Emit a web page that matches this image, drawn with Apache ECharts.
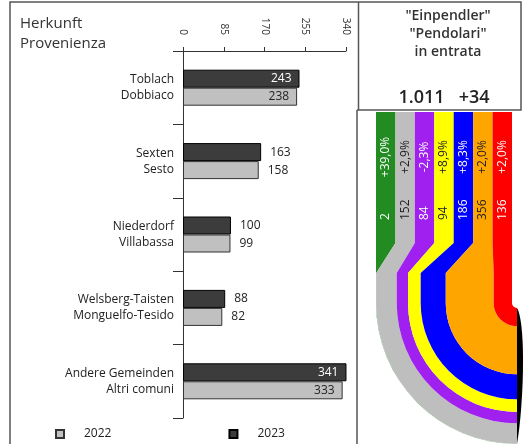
<!DOCTYPE html>
<html><head><meta charset="utf-8">
<script src="https://cdn.jsdelivr.net/npm/echarts@6/dist/echarts.min.js"></script>
<style>html,body{margin:0;padding:0;background:#fff}#c{width:524px;height:444px}</style>
</head><body><div id="c"></div>
<script>
// ---- bar chart data ----
const namesDE = ['Toblach', 'Sexten', 'Niederdorf', 'Welsberg-Taisten', 'Andere Gemeinden'];
const namesIT = ['Dobbiaco', 'Sesto', 'Villabassa', 'Monguelfo-Tesido', 'Altri comuni'];
const values2022 = [238, 158, 99, 82, 333];
const values2023 = [243, 163, 100, 88, 341];
const tickValues = [0, 85, 170, 255, 340];
const seriesNames = ['2022', '2023'];
// ---- commuter flow data ----
const flowCounts = [2, 152, 84, 94, 186, 356, 136];
const flowChanges = ['+39,0%', '+2,9%', '-2,3%', '+8,9%', '+8,3%', '+2,0%', '+2,0%'];
const totalIn = '1.011';
const totalChange = '+34';

// ---- styles ----
const FONT = '"Open Sans", "DejaVu Sans", sans-serif';
const flowColors = ['#228b22', '#bebebe', '#a020f0', '#ffff00', '#0000ff', '#ffa500', '#ff0000'];
const flowLabelColors = ['#ffffff', '#222222', '#ffffff', '#222222', '#ffffff', '#222222', '#ffffff'];

const categories = namesDE.map((d, i) => d + '\n' + namesIT[i]);
const flowTotal = flowCounts.reduce((a, b) => a + b, 0);
let acc = 0;
const flowData = flowCounts.map((v, i) => { const s = acc; acc += v; return [i, s, v]; });

function barLabel(v, insideColor) {
  return v > 200
    ? { show: true, position: 'insideRight', distance: 8, color: insideColor, fontSize: 12, fontFamily: FONT }
    : { show: true, position: 'right', distance: 9, color: '#222', fontSize: 12, fontFamily: FONT };
}

function renderFlow(params, api) {
  const i = api.value(0), start = api.value(1), val = api.value(2);
  const cs = params.coordSys;
  const n = flowCounts.length;
  const X = v => api.coord([v, 0])[0];
  const colL = X(i * flowTotal / n), colR = X((i + 1) * flowTotal / n);
  const pL = X(start), pR = X(start + val);
  const yTop = cs.y, yA = cs.y + 131, yB = cs.y + 161, Cy = cs.y + 191;
  const Cx = X(flowTotal) + 5;
  const rOut = Cx - pL, rIn = Cx - pR;
  const d = 'M' + colL + ' ' + yTop + ' L' + colR + ' ' + yTop + ' L' + colR + ' ' + yA +
    ' L' + pR + ' ' + yB + ' L' + pR + ' ' + Cy +
    ' A' + rIn + ' ' + rIn + ' 0 0 0 ' + Cx + ' ' + (Cy + rIn) +
    ' L' + Cx + ' ' + (Cy + rOut) +
    ' A' + rOut + ' ' + rOut + ' 0 0 1 ' + pL + ' ' + Cy +
    ' L' + pL + ' ' + yB + ' L' + colL + ' ' + yA + ' Z';
  const mid = (colL + colR) / 2;
  const children = [
    { type: 'path', shape: { pathData: d }, style: { fill: flowColors[i], stroke: null } },
    { type: 'text', x: mid, y: cs.y + 45, rotation: Math.PI / 2,
      style: { text: flowChanges[i], fill: flowLabelColors[i], fontSize: 12, fontFamily: FONT, align: 'center', verticalAlign: 'middle' } },
    { type: 'text', x: mid, y: cs.y + 108, rotation: Math.PI / 2,
      style: { text: String(flowCounts[i]), fill: flowLabelColors[i], fontSize: 12, fontFamily: FONT, align: 'left', verticalAlign: 'middle' } }
  ];
  if (i === n - 1) {
    const y0 = Cy + (Cx - X(flowTotal)), y1 = Cy + (Cx - X(0));
    children.push({ type: 'path', shape: { pathData:
      'M' + Cx + ' ' + y0 + ' C' + (Cx + 9) + ' ' + (Cy + 20) + ' ' + (Cx + 7) + ' ' + (Cy + 100) + ' ' + Cx + ' ' + y1 + ' Z' },
      style: { fill: '#000' } });
  }
  return { type: 'group', children: children };
}

const chart = echarts.init(document.getElementById('c'), null, { renderer: 'canvas' });
const LINE = '#555';
chart.setOption({
  animation: false,
  textStyle: { fontFamily: FONT },
  title: [
    { text: 'Herkunft\nProvenienza', left: 20, top: 14, padding: 0,
      textStyle: { fontSize: 15, fontWeight: 'normal', color: '#333', lineHeight: 20, fontFamily: FONT } },
    { text: '"Einpendler"\n"Pendolari"\nin entrata', left: 448, top: 7, padding: 0, textAlign: 'center',
      textStyle: { fontSize: 14, fontWeight: 600, color: '#333', lineHeight: 18, fontFamily: FONT, align: 'center' } },
    { text: totalIn + '   ' + totalChange, left: 444, top: 89, padding: 0, textAlign: 'center',
      textStyle: { fontSize: 18, fontWeight: 600, color: '#222', fontFamily: FONT } }
  ],
  legend: {
    data: seriesNames, left: 55, top: 428, padding: 0, itemWidth: 8, itemHeight: 8, itemGap: 117,
    icon: 'rect', textStyle: { fontSize: 12, color: '#222', fontFamily: FONT, padding: [0, 0, 0, 15] }
  },
  grid: [
    { left: 183, top: 51, width: 163, height: 367 },
    { left: 376, top: 112, width: 136, height: 332 }
  ],
  xAxis: [
    { type: 'value', gridIndex: 0, position: 'top', min: tickValues[0], max: tickValues[tickValues.length - 1],
      interval: tickValues[1] - tickValues[0],
      axisLine: { show: true, lineStyle: { color: '#333', width: 1 } },
      axisTick: { show: true, length: 4, lineStyle: { color: '#333' } },
      axisLabel: { rotate: 90, margin: 16, fontSize: 10, color: '#333', fontFamily: FONT },
      splitLine: { show: false } },
    { type: 'value', gridIndex: 1, min: 0, max: flowTotal, show: false }
  ],
  yAxis: [
    { type: 'category', gridIndex: 0, inverse: true, data: categories,
      axisLine: { show: true, lineStyle: { color: '#333', width: 1 } },
      axisTick: { show: true, length: 10, lineStyle: { color: '#333' } },
      axisLabel: { margin: 9, fontSize: 12, color: '#222', lineHeight: 16, align: 'right', fontFamily: FONT } },
    { type: 'value', gridIndex: 1, min: 0, max: 1, show: false }
  ],
  series: [
    { name: '2023', type: 'bar', xAxisIndex: 0, yAxisIndex: 0, barWidth: 18, barGap: '0%',
      itemStyle: { color: '#3c3c3c', borderColor: '#000', borderWidth: 1 },
      data: values2023.map(v => ({ value: v, label: barLabel(v, '#fff') })) },
    { name: '2022', type: 'bar', xAxisIndex: 0, yAxisIndex: 0, barWidth: 18, barGap: '0%',
      itemStyle: { color: '#c0c0c0', borderColor: '#333', borderWidth: 1 },
      data: values2022.map(v => ({ value: v, label: barLabel(v, '#222') })) },
    { type: 'custom', xAxisIndex: 1, yAxisIndex: 1, clip: false, renderItem: renderFlow,
      data: flowData, silent: true }
  ],
  graphic: [
    { type: 'polyline', shape: { points: [[10, 444], [10, 2], [521, 2], [521, 110], [357, 110]] },
      style: { stroke: LINE, lineWidth: 1.5, fill: null } },
    { type: 'line', shape: { x1: 358.5, y1: 2, x2: 358.5, y2: 110 }, style: { stroke: LINE, lineWidth: 1.5 } },
    { type: 'line', shape: { x1: 357, y1: 110, x2: 357, y2: 444 }, style: { stroke: LINE, lineWidth: 1.5 } }
  ]
});
</script></body></html>
